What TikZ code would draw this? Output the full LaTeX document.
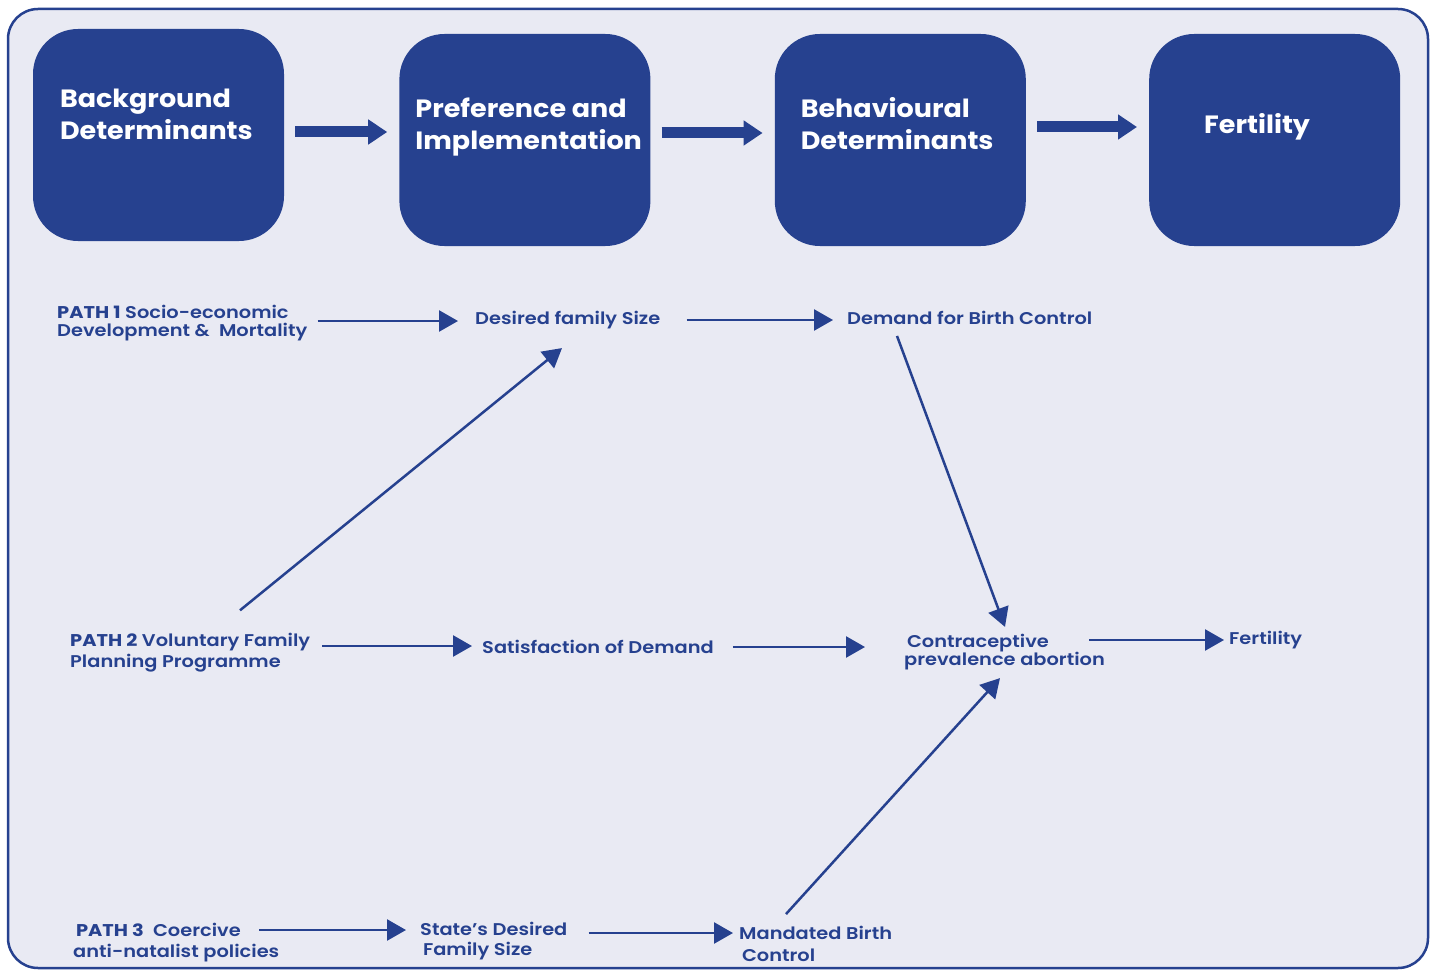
\documentclass[tikz,border=0pt]{standalone}
\usepackage{fontspec}
\setmainfont{Poppins}
\newfontfamily\boxfont{Poppins}[FakeStretch=1.08, UprightFont=* Bold]
\newfontfamily\pathfont{Poppins}[FakeStretch=1.14, UprightFont=* SemiBold, BoldFont=* Bold]
\usepackage{tikz}
\usetikzlibrary{positioning}
\usetikzlibrary{arrows.meta}
\usepackage{xcolor}
\definecolor{navy}{RGB}{38,65,143}
\definecolor{lavender}{RGB}{233,234,243}

\begin{document}
\begin{tikzpicture}[x=1pt, y=-1pt,
    bigbox/.style={fill=navy, rounded corners=45pt, minimum width=251pt, minimum height=212pt, inner sep=0},
    boxtext/.style={text=white, font=\boxfont\fontsize{25}{32}\selectfont, align=left, anchor=west, inner sep=0},
    pathtext/.style={text=navy, font=\pathfont\fontsize{17}{#1}\selectfont, align=left, anchor=west, inner sep=0},
    pathtext/.default=20,
    bigarrow/.style={navy, line width=11pt, -{Triangle[length=19pt,width=24pt]}, shorten <=11pt, shorten >=12pt},
    arr/.style={navy, line width=2.5pt, -{Triangle[length=19pt,width=21pt]}}]
    \useasboundingbox (0,0) rectangle (1435,971);
    \draw[navy, line width=2.5pt, fill=lavender, rounded corners=30pt] (8,9) rectangle (1428,968);

    % top row
    \node[bigbox] (bg) at (158.5,135) {};
    \node[bigbox, right=115pt of bg, yshift=-5pt] (pi) {};
    \node[bigbox, right=124pt of pi] (bd) {};
    \node[bigbox, right=123pt of bd] (fe) {};
    \node[boxtext] (bgt) at ([xshift=27pt,yshift=21pt]bg.west) {Background\\Determinants};
    \node[boxtext] (pit) at ([xshift=16pt,yshift=13pt]pi.west) {Preference and\\Implementation};
    \node[boxtext] (bdt) at ([xshift=26pt,yshift=16pt]bd.west) {Behavioural\\Determinants};
    \node[boxtext] (fet) at ([xshift=55pt,yshift=13pt]fe.west) {Fertility};
    \draw[bigarrow] ([yshift=3pt]bg.east) -- ([yshift=3pt]bg.east -| pi.west);
    \draw[bigarrow] ([yshift=7pt]pi.east) -- ([yshift=7pt]pi.east -| bd.west);
    \draw[bigarrow] ([yshift=13pt]bd.east) -- ([yshift=13pt]bd.east -| fe.west);

    % path 1
    \node[pathtext=18] (p1) at (57,323) {\textbf{PATH 1} Socio-economic\\Development \&~ Mortality};
    \node[pathtext] (dfs) at (475,320) {Desired family Size};
    \node[pathtext] (dbc) at (847,318) {Demand for Birth Control};
    \draw[arr, shorten <=10pt, shorten >=17pt] ([yshift=2pt]p1.east) -- ([yshift=2pt]p1.east -| dfs.west);
    \draw[arr, shorten <=26pt, shorten >=14pt] (dfs.east) -- (dfs.east -| dbc.west);

    % path 2
    \node[pathtext=21] (p2) at (70,653) {\textbf{PATH 2} Voluntary Family\\Planning Programme};
    \node[pathtext] (sod) at (482,647) {Satisfaction of Demand};
    \node[pathtext=18] (cpa) at (904,652) {\,Contraceptive\\prevalence abortion};
    \node[pathtext] (fert) at (1229,640) {Fertility};
    \draw[arr, shorten <=12pt, shorten >=10pt] ([yshift=7pt]p2.east) -- ([yshift=7pt]p2.east -| sod.west);
    \draw[arr, shorten <=19pt, shorten >=39pt] (sod.east) -- (sod.east -| cpa.west);
    \draw[arr, shorten <=-16pt, shorten >=5pt] (fert.west -| cpa.east) -- (fert.west);
    \draw[arr] ([xshift=170pt,yshift=23pt]p2.north west) -- ([xshift=87pt,yshift=-19pt]dfs.south west);
    \draw[arr] ([xshift=50pt,yshift=-11pt]dbc.south west) -- ([xshift=101pt,yshift=7pt]cpa.north west);

    % path 3
    \node[pathtext=21] (p3) at (73,943) {\,\textbf{PATH 3}~ Coercive\\anti-natalist policies};
    \node[pathtext] (sds) at (420,941) {State’s Desired\\\,Family Size};
    \node[pathtext=22] (mbc) at (739,944) {Mandated Birth\\\,Control};
    \draw[arr, shorten <=-20pt, shorten >=14pt] ([yshift=13pt]p3.east) -- ([yshift=13pt]p3.east -| sds.west);
    \draw[arr, shorten <=21pt, shorten >=6pt] ([yshift=8pt]sds.east) -- ([yshift=8pt]sds.east -| mbc.west);
    \draw[arr] ([xshift=47pt,yshift=12pt]mbc.north west) -- ([xshift=96pt,yshift=-8pt]cpa.south west);
\end{tikzpicture}
\end{document}
